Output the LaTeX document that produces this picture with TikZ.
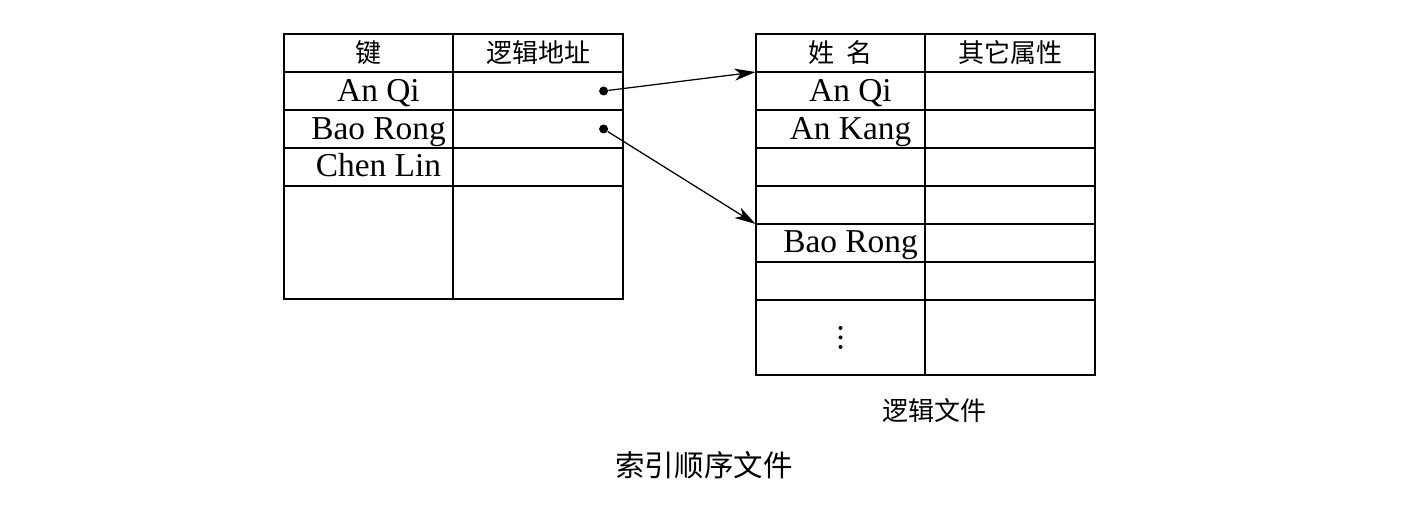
\documentclass[tikz,border=0pt]{standalone}
\usepackage{fontspec}
\setmainfont{Liberation Serif}
\newfontfamily\cjk{Noto Sans CJK SC}
\usepackage{tikz}
\usetikzlibrary{positioning,arrows.meta}

\begin{document}
\begin{tikzpicture}[
    x = 0.02cm,
    y = -0.02cm,
    cell/.style =
    { draw,
      line width     = 0.04cm,
      outer sep      = 0pt,
      inner sep      = 0pt,
      minimum width  = 3.4cm,
      minimum height = 0.76cm,
      text height    = 12pt,
      text depth     = 0.6pt,
      font           = \fontsize{19}{19}\selectfont },
    key/.style =
    { cell,
      execute at begin node = \hspace*{0.4cm} },
    head/.style =
    { cell,
      text height = 12.5pt,
      text depth  = 1.5pt,
      font        = \cjk\fontsize{14.8}{15}\selectfont },
    dot/.style =
    { circle,
      fill,
      inner sep    = 0pt,
      minimum size = 0.18cm },
    link/.style =
    { -{Stealth[length = 0.42cm, width = 0.24cm, inset = 0.12cm]},
      line width = 0.025cm },
    caption/.style =
    { font = \cjk\fontsize{14.8}{15}\selectfont }
  ]
  \useasboundingbox (0,0) rectangle (1412,531);

  % index file
  \node[head] (k0) at (368.5,53) {键};
  \node[key, below = 0pt of k0] (k1) {An Qi};
  \node[key, below = 0pt of k1] (k2) {Bao Rong};
  \node[key, below = 0pt of k2] (k3) {Chen Lin};
  \node[cell, below = 0pt of k3, minimum height = 2.26cm] (k4) {};
  \node[head, right = 0pt of k0] (a0) {逻辑地址};
  \node[cell, right = 0pt of k1] (a1) {};
  \node[cell, right = 0pt of k2] (a2) {};
  \node[cell, right = 0pt of k3] (a3) {};
  \node[cell, right = 0pt of k4, minimum height = 2.26cm] (a4) {};

  \node[dot, left = 0.3cm of a1.east] (d1) {};
  \node[dot, left = 0.3cm of a2.east] (d2) {};

  % logical file
  \node[head] (n0) at (840.5,53) {姓\hspace{0.5em}名};
  \node[key, below = 0pt of n0] (n1) {An Qi};
  \node[key, below = 0pt of n1] (n2) {An Kang};
  \node[cell, below = 0pt of n2] (n3) {};
  \node[cell, below = 0pt of n3] (n4) {};
  \node[key, below = 0pt of n4] (n5) {Bao Rong};
  \node[cell, below = 0pt of n5] (n6) {};
  \node[cell, below = 0pt of n6, minimum height = 1.5cm] (n7) {};
  \node[head, right = 0pt of n0] (o0) {其它属性};
  \foreach \i in {1,...,6}
    \node[cell, right = 0pt of n\i] (o\i) {};
  \node[cell, right = 0pt of n7, minimum height = 1.5cm] (o7) {};
  \foreach \k in {-1,0,1}
    \fill ([yshift = \k*0.19cm]n7.center) circle (0.04cm);

  \path
  (d1) edge[link] (n1.north west)
  (d2) edge[link] (n5.north west)
  ;

  \node[caption] (lf) at (934,411) {逻辑文件};
  \node[caption, font = \cjk\fontsize{16.8}{17}\selectfont] (sf) at (704,465) {索引顺序文件};
\end{tikzpicture}
\end{document}
